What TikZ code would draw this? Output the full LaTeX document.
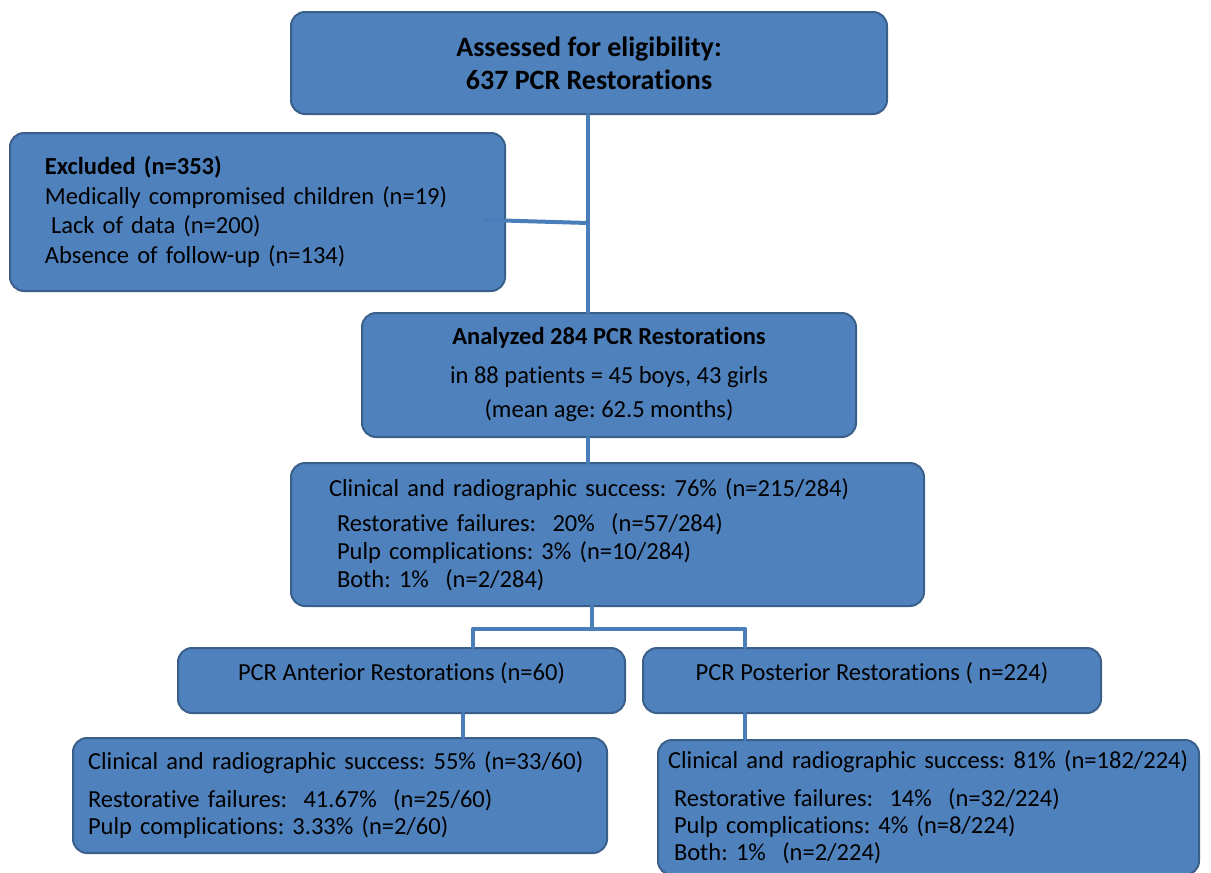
\documentclass[tikz,border=0pt]{standalone}
\usepackage{fontspec}
\setmainfont{Carlito}[Ligatures={NoCommon,NoContextual}]
\usepackage{tikz}
\usepackage{xcolor}
\definecolor{boxfill}{HTML}{4F81BD}
\definecolor{boxline}{HTML}{3A5F8B}
\definecolor{linkblue}{HTML}{4A7EBB}
\frenchspacing

\begin{document}
\begin{tikzpicture}[x=1pt,y=-1pt,line cap=round,
  box/.style={draw=boxline,fill=boxfill,line width=2pt,rounded corners=14pt,
    inner ysep=0pt,font=\fontsize{24.5}{29}\selectfont},
  link/.style={draw=linkblue,line width=4pt}]
\useasboundingbox (0,0) rectangle (1211,873);
% tap points of the connectors
\coordinate (tap) at (486,220);
\coordinate (trunk) at (588,223);
\coordinate (split) at (592,629);
\coordinate (l) at (473,629);
\coordinate (r) at (745,629);
\coordinate (adown) at (463,0);
\coordinate (pdown) at (745,0);

\node[box,minimum width=596,minimum height=102,align=center,
  font=\fontsize{28}{33}\selectfont\bfseries] (top) at (589,63)
  {Assessed for eligibility:\\637 PCR Restorations};
\node[box,minimum height=158,inner xsep=35pt,text width=425pt,align=left,
  font=\fontsize{24.5}{29.5}\selectfont] (excl) at (257.5,212)
  {\textbf{Excluded (n=353)}\\
   Medically compromised children (n=19)\\
   \hspace*{6pt}Lack of data (n=200)\\
   Absence of follow-up (n=134)};
\node[box,minimum width=494,minimum height=124,align=center] (ana) at (609,375)
  {\textbf{Analyzed 284 PCR Restorations}\\[10pt]
   in 88 patients = 45 boys, 43 girls\\[5pt]
   (mean age: 62.5 months)};
\node[box,minimum height=143,inner xsep=38pt,text width=557pt,align=left,
  font=\fontsize{24.5}{28}\selectfont] (clin) at (607.5,534.5)
  {Clinical and radiographic success: 76\% (n=215/284)\\[7pt]
   \hspace*{8pt}Restorative failures:\ \ 20\%\ \ (n=57/284)\\
   \hspace*{8pt}Pulp complications: 3\% (n=10/284)\\
   \hspace*{8pt}Both: 1\%\ \ (n=2/284)};
\node[box,minimum width=447,minimum height=65,text depth=18pt,align=center] (ant) at (401.5,680.5)
  {PCR Anterior Restorations (n=60)};
\node[box,minimum width=458,minimum height=65,text depth=18pt,align=center] (post) at (872,680.5)
  {PCR Posterior Restorations ( n=224)};
\node[box,minimum height=115,inner xsep=15pt,text width=504pt,align=left,
  font=\fontsize{24.5}{27}\selectfont] (antres) at (340,795.5)
  {Clinical and radiographic success: 55\% (n=33/60)\\[11pt]
   Restorative failures:\ \ 41.67\%\ \ (n=25/60)\\
   Pulp complications: 3.33\% (n=2/60)};
\node[box,minimum height=135,inner xsep=5pt,text width=531pt,align=left,
  font=\fontsize{24.5}{27}\selectfont] (postres) at (928.5,807.5)
  {\hspace*{5pt}Clinical and radiographic success: 81\% (n=182/224)\\[11pt]
   \hspace*{11pt}Restorative failures:\ \ 14\%\ \ (n=32/224)\\
   \hspace*{11pt}Pulp complications: 4\% (n=8/224)\\
   \hspace*{11pt}Both: 1\%\ \ (n=2/224)};

\draw[link] (top.south -| trunk) -- (ana.north -| trunk);
\draw[link] (tap) -- (trunk);
\draw[link] (ana.south -| trunk) -- (clin.north -| trunk);
\draw[link] (clin.south -| split) -- (split);
\draw[link] (l) -- (r);
\draw[link] (l) -- (ant.north -| l);
\draw[link] (r) -- (post.north -| r);
\draw[link] (ant.south -| adown) -- (antres.north -| adown);
\draw[link] (post.south -| pdown) -- (postres.north -| pdown);
\end{tikzpicture}
\end{document}
